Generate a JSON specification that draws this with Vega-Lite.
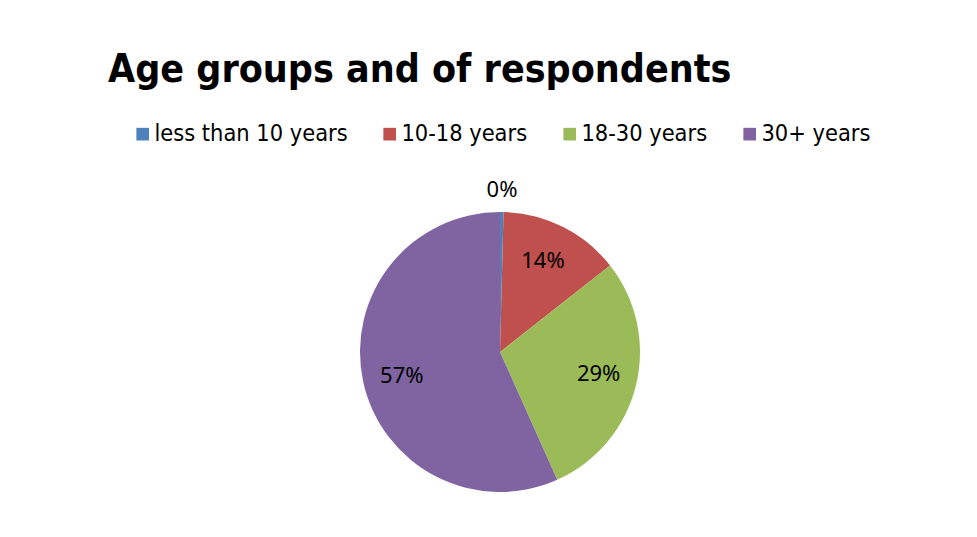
{
  "$schema": "https://vega.github.io/schema/vega-lite/v6.json",
  "autosize": {"type": "none"},
  "padding": {"left": 23, "top": 167, "right": 0, "bottom": 0},
  "width": 954,
  "height": 370,
  "background": "white",
  "config": {"view": {"stroke": null}},
  "title": {
    "text": "Age groups and of respondents",
    "anchor": "start",
    "dx": 85,
    "offset": 32,
    "font": "DejaVu Sans Condensed, sans-serif",
    "fontSize": 39,
    "fontWeight": "bold",
    "color": "black"
  },
  "data": {
    "values": [
      {"group": "less than 10 years", "share": 0.004, "order": 1},
      {"group": "10-18 years", "share": 0.140, "order": 2},
      {"group": "18-30 years", "share": 0.289, "order": 3},
      {"group": "30+ years", "share": 0.567, "order": 4}
    ]
  },
  "encoding": {
    "theta": {"field": "share", "type": "quantitative", "stack": true},
    "order": {"field": "order", "type": "quantitative"},
    "color": {
      "field": "group",
      "type": "nominal",
      "scale": {
        "domain": ["less than 10 years", "10-18 years", "18-30 years", "30+ years"],
        "range": ["#4F81BD", "#C0504D", "#9BBB59", "#8064A2"]
      },
      "legend": {
        "title": null,
        "orient": "none",
        "direction": "horizontal",
        "legendX": 108,
        "legendY": -45,
        "padding": 0,
        "symbolType": "square",
        "symbolSize": 160,
        "symbolStrokeWidth": 0,
        "symbolOpacity": 1,
        "labelFont": "DejaVu Sans Condensed, sans-serif",
        "labelFontSize": 23.4,
        "labelColor": "black",
        "labelOffset": 0,
        "columnPadding": 30,
        "labelLimit": 400
      }
    }
  },
  "layer": [
    {"mark": {"type": "arc", "outerRadius": 140}},
    {
      "transform": [{"filter": "datum.share >= 0.01"}],
      "mark": {"type": "text", "radius": 101, "font": "Noto Sans, sans-serif", "fontSize": 22, "fill": "black"},
      "encoding": {
        "text": {"field": "share", "type": "quantitative", "format": ".0%"},
        "color": {"value": "black"}
      }
    },
    {
      "transform": [{"filter": "datum.share < 0.01"}],
      "mark": {"type": "text", "radius": 162, "font": "Noto Sans, sans-serif", "fontSize": 22, "fill": "black"},
      "encoding": {
        "text": {"field": "share", "type": "quantitative", "format": ".0%"},
        "color": {"value": "black"}
      }
    }
  ]
}
